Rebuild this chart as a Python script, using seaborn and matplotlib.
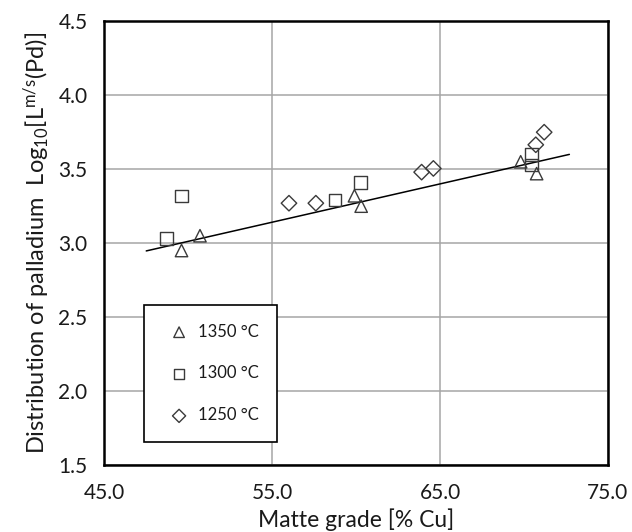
import numpy as np
import matplotlib
matplotlib.use('Agg')
import matplotlib.pyplot as plt
import seaborn as sns
from matplotlib.ticker import MultipleLocator, FormatStrFormatter

# Dados
x_1350 = [49.6, 50.7, 59.9, 60.3, 69.8, 70.75]
y_1350 = [2.95, 3.05, 3.32, 3.25, 3.55, 3.47]

x_1300 = [48.7, 49.6, 58.75, 60.25, 70.45, 70.45]
y_1300 = [3.03, 3.32, 3.29, 3.41, 3.60, 3.53]

x_1250 = [56.0, 57.6, 63.9, 64.6, 70.7, 71.2]
y_1250 = [3.27, 3.27, 3.48, 3.505, 3.665, 3.75]

# Linha de tendência
fit_slope = 0.0259
fit_intercept = 1.717
fit_range = [47.5, 72.7]

xticks = [45, 55, 65, 75]
yticks = [1.5, 2.0, 2.5, 3.0, 3.5, 4.0, 4.5]

sns.set_style('white')
plt.rcParams['font.family'] = ['Lato', 'DejaVu Sans']
plt.rcParams['mathtext.default'] = 'regular'

fig, ax = plt.subplots(figsize=(6.32, 5.32), dpi=100)
fig.subplots_adjust(left=0.165, right=0.962, top=0.960, bottom=0.126)

cor_borda = '#3a3a3a'
cor_texto = '#1a1a1a'
series = [
    (x_1350, y_1350, '^', '1350 °C'),
    (x_1300, y_1300, 's', '1300 °C'),
    (x_1250, y_1250, 'D', '1250 °C'),
]
for xs, ys, mk, lab in series:
    tam = 80 if mk != 'D' else 62
    sns.scatterplot(x=xs, y=ys, marker=mk, s=tam, facecolor='none',
                    edgecolor=cor_borda, linewidth=1.0, ax=ax, label=lab, zorder=3)

xf = np.array(fit_range)
sns.lineplot(x=xf, y=fit_intercept + fit_slope * xf, color='black', linewidth=1.1, ax=ax, zorder=2)

ax.set_xlim(45, 75)
ax.set_ylim(1.5, 4.5)
ax.set_xticks(xticks)
ax.set_yticks(yticks)
ax.xaxis.set_minor_locator(MultipleLocator(1))
ax.yaxis.set_minor_locator(MultipleLocator(0.1))
ax.xaxis.set_major_formatter(FormatStrFormatter('%.1f'))
ax.yaxis.set_major_formatter(FormatStrFormatter('%.1f'))
ax.tick_params(which='major', direction='out', length=7, width=1, colors='#555555',
               labelcolor=cor_texto, labelsize=15)
ax.tick_params(which='minor', direction='in', length=4, width=1, colors='#555555')
ax.tick_params(axis='x', which='major', pad=6)
ax.tick_params(axis='y', which='major', pad=5)

ax.grid(True, which='major', color='#a6a6a6', linewidth=1.1)
ax.set_axisbelow(True)
for s in ax.spines.values():
    s.set_visible(True)
    s.set_color('black')
    s.set_linewidth(1.8)

ax.set_xlabel('Matte grade [% Cu]', fontsize=16.5, labelpad=4, color=cor_texto)
ax.set_ylabel('Distribution of palladium  Log$_{10}$[L$^{m/s}$(Pd)]', fontsize=17,
              labelpad=5, color=cor_texto)

leg = ax.legend(loc='upper left', bbox_to_anchor=(0.079, 0.36), fontsize=12,
                frameon=True, fancybox=False, edgecolor='black', framealpha=1,
                borderpad=1.1, labelspacing=1.55, handlelength=2.0, handletextpad=0.15,
                markerscale=0.85, borderaxespad=0)
leg.get_frame().set_linewidth(1.2)
for t in leg.get_texts():
    t.set_color(cor_texto)

plt.savefig('out.png', dpi=100)
